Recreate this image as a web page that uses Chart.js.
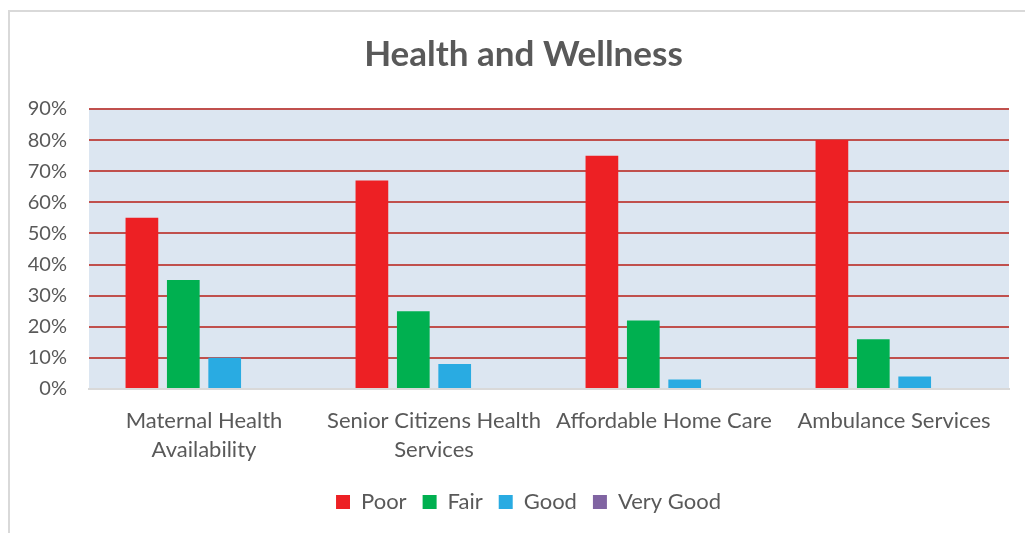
<!DOCTYPE html>
<html lang="en">
<head>
    <meta charset="UTF-8">
    <title>Health and Wellness</title>
    <script src="https://cdn.jsdelivr.net/npm/chart.js"></script>
    <style>
        html, body { margin: 0; padding: 0; background: #fff; overflow: hidden; }
        #frame { position: absolute; left: 8px; top: 10px; width: 1100px; height: 600px;
                 border-left: 2px solid #d9d9d9; border-top: 2px solid #d9d9d9; }
        #wrap { position: absolute; left: 0; top: 0; width: 1025px; height: 533px; }
    </style>
</head>
<body>
    <div id="frame"></div>
    <div id="wrap"><canvas id="healthChart"></canvas></div>

    <script>
        // categories and series
        const categories = [['Maternal Health', 'Availability'], ['Senior Citizens Health', 'Services'], 'Affordable Home Care', 'Ambulance Services'];
        const poor = [55, 67, 75, 80];
        const fair = [35, 25, 22, 16];
        const good = [10, 8, 3, 4];
        const veryGood = [0, 0, 0, 0];
        const yTicks = [0, 10, 20, 30, 40, 50, 60, 70, 80, 90];

        const textColor = '#595959';
        const font = 'Lato, Calibri, sans-serif';

        // fill the plot area light blue-grey
        const plotBg = {
            id: 'plotBg',
            beforeDraw(chart) {
                const a = chart.chartArea;
                const ctx = chart.ctx;
                ctx.save();
                ctx.fillStyle = '#dce6f1';
                ctx.fillRect(a.left, a.top, a.right - a.left, a.bottom - a.top);
                ctx.restore();
            }
        };

        // title and legend sit a little right of the canvas centre in the original
        const nudge = {
            id: 'nudge',
            afterLayout(chart) {
                if (chart.titleBlock) {
                    chart.titleBlock.left += 15;
                    chart.titleBlock.right += 15;
                }
                if (chart.legend) {
                    chart.legend.left += 20;
                    chart.legend.right += 20;
                    chart.legend.top += 2;
                    chart.legend.bottom += 2;
                }
            }
        };

        const ctx = document.getElementById('healthChart').getContext('2d');
        new Chart(ctx, {
            type: 'bar',
            data: {
                labels: categories,
                datasets: [
                    { label: 'Poor', data: poor, backgroundColor: '#ed2024' },
                    { label: 'Fair', data: fair, backgroundColor: '#00b050' },
                    { label: 'Good', data: good, backgroundColor: '#29abe2' },
                    { label: 'Very Good', data: veryGood, backgroundColor: '#8064a2' }
                ]
            },
            options: {
                responsive: true,
                maintainAspectRatio: false,
                animation: false,
                categoryPercentage: 0.72,
                barPercentage: 0.79,
                layout: { padding: { left: 8, right: 16, top: 10, bottom: 12 } },
                plugins: {
                    title: {
                        display: true,
                        text: 'Health and Wellness',
                        color: textColor,
                        font: { family: font, size: 35, weight: 'bold' },
                        padding: { top: 24, bottom: 33 }
                    },
                    legend: {
                        position: 'bottom',
                        labels: {
                            color: textColor,
                            font: { family: font, size: 22 },
                            boxWidth: 14,
                            boxHeight: 14,
                            padding: 16
                        }
                    },
                    tooltip: { enabled: false }
                },
                scales: {
                    x: {
                        grid: { display: false },
                        border: { display: true, color: '#d9d9d9', width: 2 },
                        ticks: {
                            color: textColor,
                            font: { family: font, size: 22, lineHeight: 1.32 },
                            padding: 9,
                            maxRotation: 0
                        }
                    },
                    y: {
                        min: 0,
                        max: 90,
                        afterFit(scale) { scale.width = 81; },
                        afterBuildTicks(scale) { scale.ticks = yTicks.map(v => ({ value: v })); },
                        grid: { color: '#c0504d', lineWidth: 2, drawTicks: false },
                        border: { display: false },
                        ticks: {
                            color: textColor,
                            font: { family: font, size: 20 },
                            padding: 22,
                            callback: v => v + '%'
                        }
                    }
                }
            },
            plugins: [plotBg, nudge]
        });
    </script>
</body>
</html>
